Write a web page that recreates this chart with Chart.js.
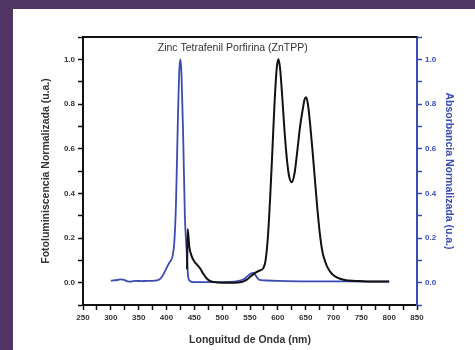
<!DOCTYPE html>
<html>
<head>
<meta charset="utf-8">
<script src="https://cdn.jsdelivr.net/npm/chart.js@4"></script>
<style>
  html, body { margin: 0; padding: 0; }
  body { width: 475px; height: 350px; background: #4f3464; position: relative; overflow: hidden; }
  #panel { position: absolute; left: 13px; top: 9px; width: 462px; height: 341px; background: #fff; }
</style>
</head>
<body>
<div id="panel"><canvas id="spectra" width="462" height="341"></canvas></div>
<script>
// Fotoluminiscencia (black)
const emWavelength = [437, 438, 441, 445, 450, 455, 460, 466, 472, 478, 485, 500, 520, 535, 545, 552, 560, 568, 574, 578, 582, 586, 590, 594, 598, 601, 604, 608, 612, 616, 620, 625, 630, 635, 640, 645, 648, 651, 654, 658, 662, 666, 670, 675, 680, 685, 690, 697, 705, 720, 740, 760, 780, 800];
const emValues = [0.06, 0.24, 0.16, 0.12, 0.095, 0.08, 0.065, 0.04, 0.02, 0.008, 0.003, 0.0, 0.0, 0.003, 0.015, 0.03, 0.045, 0.055, 0.065, 0.1, 0.2, 0.37, 0.58, 0.8, 0.96, 1.0, 0.96, 0.83, 0.68, 0.56, 0.48, 0.45, 0.49, 0.59, 0.7, 0.78, 0.82, 0.83, 0.8, 0.71, 0.6, 0.48, 0.36, 0.23, 0.14, 0.095, 0.065, 0.04, 0.025, 0.012, 0.008, 0.005, 0.005, 0.005];

// Absorbancia (blue)
const absWavelength = [300, 305, 312, 318, 324, 330, 336, 345, 355, 365, 375, 383, 390, 395, 400, 404, 408, 411, 414, 417, 420, 423, 425, 427, 430, 433, 436, 439, 442, 446, 455, 480, 510, 530, 540, 546, 551, 555, 558, 562, 567, 575, 600, 650, 700, 750, 800];
const absValues = [0.008, 0.01, 0.012, 0.015, 0.012, 0.006, 0.005, 0.008, 0.007, 0.008, 0.008, 0.01, 0.02, 0.04, 0.065, 0.085, 0.1, 0.12, 0.18, 0.35, 0.68, 0.95, 1.0, 0.93, 0.65, 0.3, 0.15, 0.025, 0.008, 0.003, 0.002, 0.002, 0.003, 0.008, 0.018, 0.03, 0.04, 0.044, 0.04, 0.025, 0.012, 0.01, 0.008, 0.006, 0.006, 0.005, 0.005];

const xTickStep = 25;   // labels every 50
const yTickStep = 0.1;  // labels every 0.2

const chartTitle = 'Zinc Tetrafenil Porfirina (ZnTPP)';
const xTitle = 'Longuitud de Onda (nm)';
const yTitle = 'Fotoluminiscencia Normalizada (u.a.)';
const y1Title = 'Absorbancia Normalizada (u.a.)';

const blue = '#3a4cb3';
const tickFont = { family: '"Liberation Sans", Arial, sans-serif', size: 8, weight: 'bold' };
const titleFont = { family: '"Liberation Sans", Arial, sans-serif', size: 10.5, weight: 'bold' };

const toPoints = (xs, ys) => xs.map((x, i) => ({ x, y: ys[i] }));

const yLabel = v => (Math.round(v * 10) % 2 === 0 ? v.toFixed(1) : '');

// frame top line + inner title
const framePlugin = {
  id: 'frame',
  afterDraw(chart) {
    const { ctx, chartArea, scales } = chart;
    ctx.save();
    ctx.strokeStyle = '#111';
    ctx.lineWidth = 2;
    ctx.beginPath();
    ctx.moveTo(chartArea.left - 1, chartArea.top);
    ctx.lineTo(chartArea.right, chartArea.top);
    ctx.stroke();
    ctx.fillStyle = '#333';
    ctx.font = '10.5px "Liberation Sans", Arial, sans-serif';
    ctx.textAlign = 'center';
    ctx.textBaseline = 'middle';
    ctx.fillText(chartTitle, scales.x.getPixelForValue(519), chartArea.top + 11);
    ctx.restore();
  }
};

new Chart(document.getElementById('spectra'), {
  type: 'line',
  data: {
    datasets: [
      {
        label: 'Fotoluminiscencia',
        data: toPoints(emWavelength, emValues),
        borderColor: '#111',
        borderWidth: 2,
        pointRadius: 0,
        cubicInterpolationMode: 'monotone',
        yAxisID: 'y'
      },
      {
        label: 'Absorbancia',
        data: toPoints(absWavelength, absValues),
        borderColor: blue,
        borderWidth: 1.8,
        pointRadius: 0,
        cubicInterpolationMode: 'monotone',
        yAxisID: 'y1'
      }
    ]
  },
  options: {
    responsive: false,
    animation: false,
    layout: { padding: { left: 23, top: 28, right: 16, bottom: 0 } },
    plugins: { legend: { display: false }, tooltip: { enabled: false } },
    scales: {
      x: {
        type: 'linear',
        min: 250,
        max: 850,
        ticks: {
          stepSize: xTickStep,
          autoSkip: false,
          maxRotation: 0,
          color: '#333',
          font: tickFont,
          padding: 3,
          callback: v => (v % 50 === 0 ? v : '')
        },
        grid: { drawOnChartArea: false, tickLength: 5, tickColor: '#111', tickWidth: 1.5 },
        border: { color: '#111', width: 2 },
        title: { display: true, text: xTitle, color: '#333', font: titleFont, padding: { top: 4, bottom: 4 } },
        afterFit: s => { s.height = 45; }
      },
      y: {
        position: 'left',
        min: -0.1,
        max: 1.1,
        ticks: { stepSize: yTickStep, color: '#333', font: tickFont, padding: 3, callback: yLabel },
        grid: { drawOnChartArea: false, tickLength: 5, tickColor: '#111', tickWidth: 1.5 },
        border: { color: '#111', width: 2 },
        title: { display: true, text: yTitle, color: '#333', font: titleFont, padding: 4 },
        afterFit: s => { s.width = 47; }
      },
      y1: {
        position: 'right',
        min: -0.1,
        max: 1.1,
        ticks: { stepSize: yTickStep, color: blue, font: tickFont, padding: 3, callback: yLabel },
        grid: { drawOnChartArea: false, tickLength: 5, tickColor: blue, tickWidth: 1.5 },
        border: { color: blue, width: 2 },
        title: { display: true, text: y1Title, color: blue, font: titleFont, padding: 4 },
        afterFit: s => { s.width = 42; }
      }
    }
  },
  plugins: [framePlugin]
});
</script>
</body>
</html>
